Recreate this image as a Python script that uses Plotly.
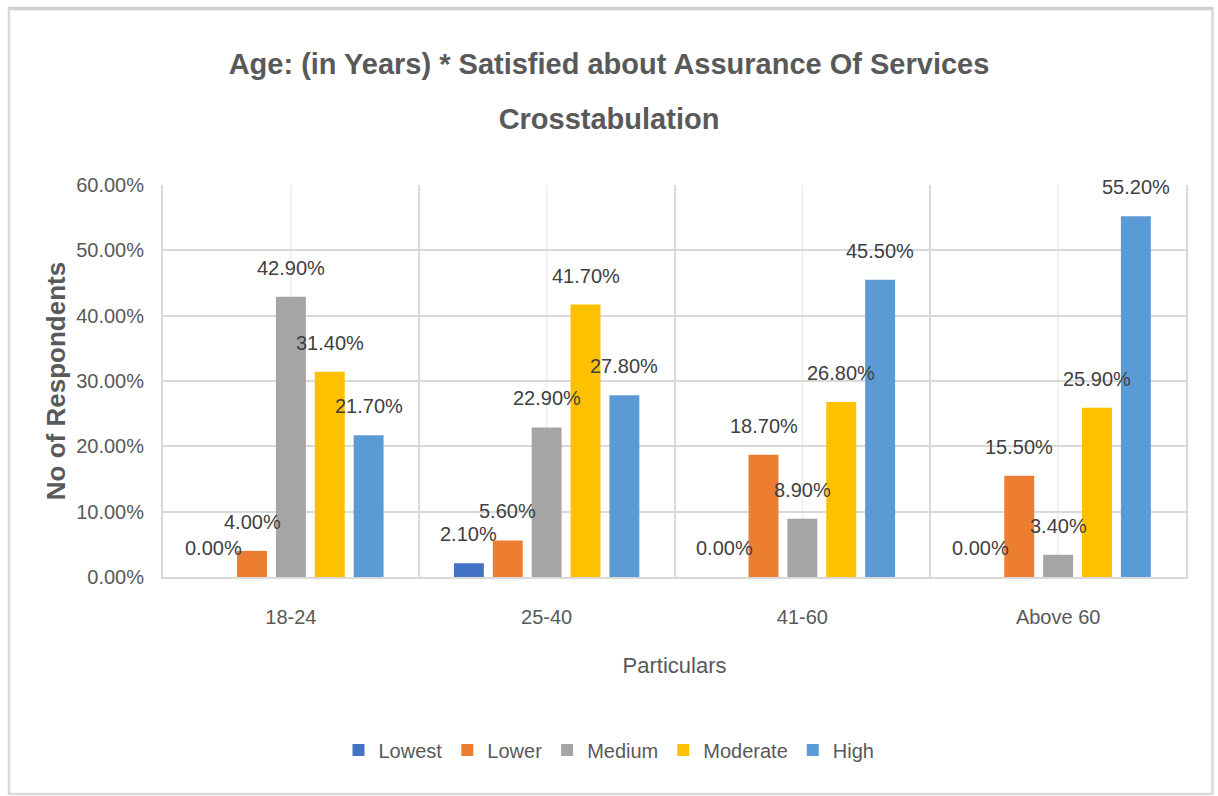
import plotly.graph_objects as go

# Crosstab: age band vs. satisfaction level (percent of respondents)
age_groups = ["18-24", "25-40", "41-60", "Above 60"]
levels = ["Lowest", "Lower", "Medium", "Moderate", "High"]
lowest = [0.0, 2.1, 0.0, 0.0]
lower = [4.0, 5.6, 18.7, 15.5]
medium = [42.9, 22.9, 8.9, 3.4]
moderate = [31.4, 41.7, 26.8, 25.9]
high = [21.7, 27.8, 45.5, 55.2]
y_ticks = [0, 10, 20, 30, 40, 50, 60]

series = [lowest, lower, medium, moderate, high]
colors = ["#4472C4", "#ED7D31", "#A5A5A5", "#FFC000", "#5B9BD5"]

FONT = "Liberation Sans, Arial, sans-serif"
TXT = "#595959"
BARGAP = 0.24
BARGROUPGAP = 0.23

# figure geometry (px)
W, H = 1218, 796
L, R, T, B = 163, 32, 185, 219

fig = go.Figure()
for name, vals, col in zip(levels, series, colors):
    fig.add_trace(go.Bar(name=name, x=age_groups, y=vals, marker_color=col,
                         marker_line_width=0))

# value labels centred over each bar, in category-index units
n = len(levels)
slot = (1 - BARGAP) / n
annotations = []
for j, vals in enumerate(series):
    off = -(1 - BARGAP) / 2 + slot * (j + 0.5)
    for i, v in enumerate(vals):
        annotations.append(dict(
            x=i + off, y=v, xref="x", yref="y", text=f"{v:.2f}%",
            showarrow=False, yshift=29, yanchor="middle", xanchor="center",
            font=dict(family=FONT, size=20, color="#404040")))

# light vertical lines through the middle of each category
shapes = [dict(type="line", xref="x", yref="paper", x0=c, x1=c, y0=0, y1=1,
               line=dict(color="#EDEDED", width=1.5), layer="below")
          for c in age_groups]

# outer chart frame
pw, ph = W - L - R, H - T - B
def px_to_paper_x(p):
    return (p - L) / pw
def px_to_paper_y(p):
    return (H - B - p) / ph
shapes.append(dict(type="rect", xref="paper", yref="paper",
                   x0=px_to_paper_x(9), x1=px_to_paper_x(1212.5),
                   y0=px_to_paper_y(794), y1=px_to_paper_y(8.5),
                   line=dict(color="#D9D9D9", width=2.5), layer="below"))
shapes.append(dict(type="line", xref="paper", yref="paper",
                   x0=px_to_paper_x(9), x1=px_to_paper_x(1212.5),
                   y0=px_to_paper_y(8.5), y1=px_to_paper_y(8.5),
                   line=dict(color="#D0D0D0", width=3.5), layer="below"))

title_txt = ("<span style='font-size:29px'>Age: (in Years) * Satisfied about Assurance Of Services</span>"
             "<br><span style='font-size:29px'>Crosstabulation</span>")

fig.update_layout(
    width=W, height=H,
    margin=dict(l=L, r=R, t=T, b=B, autoexpand=False),
    paper_bgcolor="white", plot_bgcolor="white",
    barmode="group", bargap=BARGAP, bargroupgap=BARGROUPGAP,
    font=dict(family=FONT, size=20, color=TXT),
    title=dict(text=title_txt, x=0.5, xanchor="center", xref="container",
               y=1 - 74 / H, yanchor="top", yref="container",
               font=dict(family=FONT, size=42, color=TXT, weight="bold")),
    xaxis=dict(type="category", tickson="boundaries", showgrid=True,
               gridcolor="#D9D9D9", gridwidth=2, showline=True,
               linecolor="#D9D9D9", linewidth=2, ticks="", ticklabelstandoff=21,
               tickfont=dict(size=20, color=TXT),
               title=dict(text="Particulars", standoff=31,
                          font=dict(size=22, color=TXT))),
    yaxis=dict(range=[0, 60], tickvals=y_ticks,
               ticktext=[f"{v:.2f}%" for v in y_ticks],
               showgrid=True, gridcolor="#D9D9D9", gridwidth=2,
               zeroline=False, showline=True, linecolor="#D9D9D9", linewidth=2,
               mirror=True, ticks="", ticklabelstandoff=13,
               tickfont=dict(size=20, color=TXT),
               title=dict(text="No of Respondents", standoff=3,
                          font=dict(family=FONT, size=26, color=TXT,
                                    weight="bold"))),
    legend=dict(orientation="h", xref="container", yref="container",
                x=0.5, xanchor="center", y=1 - 750 / H, yanchor="middle",
                font=dict(size=20, color=TXT), itemwidth=30,
                traceorder="normal"),
    annotations=annotations,
    shapes=shapes,
)

fig.write_html("out.html")
